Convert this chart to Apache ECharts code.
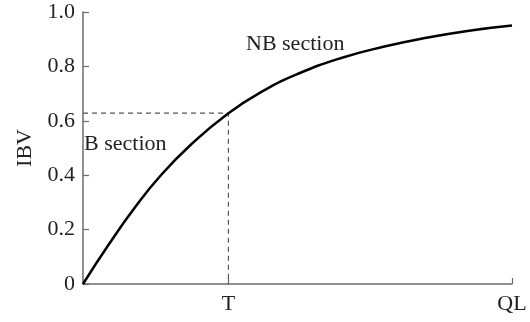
<!DOCTYPE html>
<html>
<head>
<meta charset="utf-8">
<script src="https://cdn.jsdelivr.net/npm/echarts@6/dist/echarts.min.js"></script>
<style>
  html, body { margin: 0; padding: 0; background: #fff; }
  #chart { width: 530px; height: 322px; }
</style>
</head>
<body>
<div id="chart"></div>
<script>
// Queue length, normalised so that QL = 1
const queueLength = [0, 0.06, 0.12, 0.18, 0.25, 0.339, 0.42, 0.50, 0.60, 0.70, 0.80, 0.90, 1.0];
// IBV value along the curve
const ibv = [0, 0.145, 0.279, 0.397, 0.510, 0.628, 0.710, 0.772, 0.830, 0.872, 0.905, 0.931, 0.95];

// Threshold T and its IBV level
const thresholdT = 0.339;
const thresholdIBV = 0.628;

// X-axis tick positions and names
const xTickValues = [0.339, 1.0];
const xTickNames = ['T', 'QL'];

const FONT = '"Liberation Serif", "Times New Roman", serif';
const AXIS_COLOR = '#6b6b6b';

const chart = echarts.init(document.getElementById('chart'), null, { renderer: 'canvas' });

const curve = queueLength.map((x, i) => [x, ibv[i]]);
const guide = [[0, thresholdIBV], [thresholdT, thresholdIBV], [thresholdT, 0]];

chart.setOption({
  animation: false,
  backgroundColor: '#fff',
  grid: { left: 83, right: 18, top: 12, bottom: 38 },
  xAxis: {
    type: 'value',
    min: 0,
    max: 1,
    axisLine: { show: true, lineStyle: { color: AXIS_COLOR, width: 1.5 } },
    axisTick: {
      show: true, inside: true, length: 6,
      customValues: xTickValues,
      lineStyle: { color: AXIS_COLOR, width: 1.2 }
    },
    axisLabel: {
      show: true,
      customValues: xTickValues,
      formatter: v => {
        const i = xTickValues.findIndex(t => Math.abs(t - v) < 1e-6);
        return i >= 0 ? xTickNames[i] : '';
      },
      fontFamily: FONT, fontSize: 22, color: '#222', margin: 9
    },
    splitLine: { show: false }
  },
  yAxis: {
    type: 'value',
    min: 0,
    max: 1,
    interval: 0.2,
    name: 'IBV',
    nameLocation: 'middle',
    nameGap: 47,
    nameRotate: 90,
    nameTextStyle: { fontFamily: FONT, fontSize: 22, color: '#222' },
    axisLine: { show: true, lineStyle: { color: AXIS_COLOR, width: 1.5 } },
    axisTick: { show: true, inside: true, length: 6, lineStyle: { color: AXIS_COLOR, width: 1.2 } },
    axisLabel: {
      formatter: v => (v === 0 ? '0' : v.toFixed(1)),
      fontFamily: FONT, fontSize: 22, color: '#222', margin: 8
    },
    splitLine: { show: false }
  },
  series: [
    {
      type: 'line',
      data: guide,
      symbol: 'none',
      silent: true,
      lineStyle: { color: '#555', width: 1.2, type: [5, 4] },
      z: 1
    },
    {
      type: 'line',
      data: curve,
      smooth: 0.5,
      symbol: 'none',
      clip: false,
      lineStyle: { color: '#000', width: 2.5 },
      z: 3
    }
  ],
  graphic: [
    {
      type: 'text', left: 246, top: 33,
      style: { text: 'NB section', font: '22px ' + FONT, fill: '#222' }
    },
    {
      type: 'text', left: 84, top: 133,
      style: { text: 'B section', font: '22px ' + FONT, fill: '#222' }
    }
  ]
});
</script>
</body>
</html>
